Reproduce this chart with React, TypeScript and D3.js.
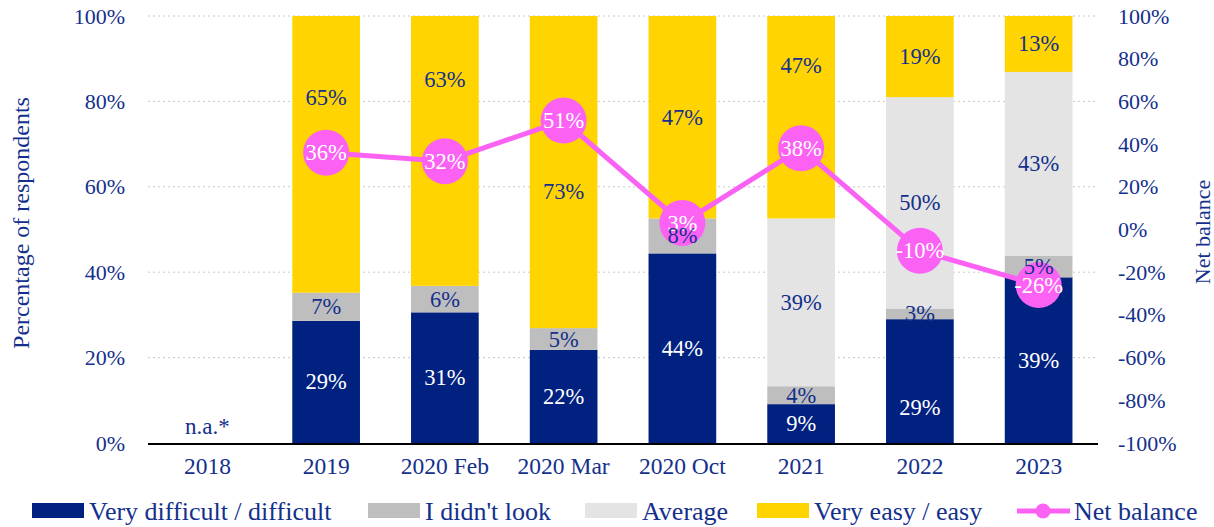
import React from 'react';
import * as d3 from 'd3';

const categories = ['2018', '2019', '2020 Feb', '2020 Mar', '2020 Oct', '2021', '2022', '2023'];
const veryDifficult = [null, 28.6, 30.6, 21.8, 44.4, 9.1, 29.0, 38.8];
const didntLook = [null, 6.6, 6.2, 5.1, 8.2, 4.2, 2.5, 5.0];
const average = [null, 0, 0, 0, 0, 39.3, 49.5, 43.1];
const veryEasy = [null, 64.8, 63.2, 73.1, 47.4, 47.4, 19.0, 13.1];
const netBalance = [null, 36, 32, 51, 3, 38, -10, -26];
const leftTicks = [0, 20, 40, 60, 80, 100];
const rightTicks = [-100, -80, -60, -40, -20, 0, 20, 40, 60, 80, 100];
// label anchor overrides (in left-axis %) where the original moved labels
const veryEasyLabelAt = [null, 80.8, 85.2, 58.8, null, 88.3, null, null];
const veryDifficultLabelAt = [null, null, null, null, null, null, 8.4, null];

const W = 1214, H = 527;
const M = { left: 148, right: 1098, top: 16, bottom: 443 };
const FONT = '"Liberation Serif", "Times New Roman", serif';
const TXT = '#14308C';
const C_DARK = '#00217F';
const C_GRAY = '#BEBEBE';
const C_LIGHT = '#E4E4E4';
const C_YELLOW = '#FFD400';
const C_PINK = '#FB62F4';

const seriesDefs = [
  { key: 'vd', name: 'Very difficult / difficult', values: veryDifficult, color: C_DARK, textColor: '#FFFFFF', labelAt: veryDifficultLabelAt },
  { key: 'dl', name: "I didn't look", values: didntLook, color: C_GRAY, textColor: TXT, labelAt: null },
  { key: 'av', name: 'Average', values: average, color: C_LIGHT, textColor: TXT, labelAt: null },
  { key: 've', name: 'Very easy / easy', values: veryEasy, color: C_YELLOW, textColor: TXT, labelAt: veryEasyLabelAt },
];

export default function App() {
  const x = d3.scaleBand<string>().domain(categories).range([M.left, M.right]).paddingInner(0.43).paddingOuter(0.215);
  const y = d3.scaleLinear().domain([0, 100]).range([M.bottom, M.top]);
  const y2 = d3.scaleLinear().domain([-100, 100]).range([M.bottom, M.top]);
  const bw = x.bandwidth();

  const stacks = categories.map((c, i) => {
    let acc = 0;
    return seriesDefs.map((s) => {
      const v = s.values[i];
      const y0 = acc;
      const y1 = acc + (v ?? 0);
      acc = y1;
      return { s, v, y0, y1 };
    });
  });

  const linePts = categories
    .map((c, i) => ({ c, v: netBalance[i] }))
    .filter((d) => d.v !== null) as { c: string; v: number }[];
  const line = d3.line<{ c: string; v: number }>()
    .x((d) => (x(d.c) as number) + bw / 2)
    .y((d) => y2(d.v));

  const legendItems = [
    { name: seriesDefs[0].name, color: C_DARK, x: 32 },
    { name: seriesDefs[1].name, color: C_GRAY, x: 368 },
    { name: seriesDefs[2].name, color: C_LIGHT, x: 585 },
    { name: seriesDefs[3].name, color: C_YELLOW, x: 757 },
  ];

  return (
    <svg width={W} height={H} style={{ position: 'absolute', left: 0, top: 0, background: '#fff' }} fontFamily={FONT}>
      {/* gridlines */}
      {leftTicks.filter((t) => t > 0).map((t) => (
        <line key={t} x1={M.left} x2={M.right} y1={y(t)} y2={y(t)} stroke="#C8C8C8" strokeWidth={1} strokeDasharray="2,3" />
      ))}
      {/* bars */}
      {stacks.map((st, i) =>
        st.map((seg) =>
          seg.v ? (
            <rect key={categories[i] + seg.s.key} x={x(categories[i])} width={bw} y={y(seg.y1)} height={y(seg.y0) - y(seg.y1)} fill={seg.s.color} />
          ) : null
        )
      )}
      {/* x axis */}
      <line x1={M.left} x2={M.right} y1={M.bottom + 1} y2={M.bottom + 1} stroke="#000" strokeWidth={2} />
      {categories.map((c) => (
        <text key={c} x={(x(c) as number) + bw / 2} y={466} textAnchor="middle" dominantBaseline="central" fontSize={23.5} fill={TXT}>{c}</text>
      ))}
      {/* left ticks */}
      {leftTicks.map((t) => (
        <text key={'l' + t} x={125} y={y(t)} textAnchor="end" dominantBaseline="central" fontSize={22} fill={TXT}>{t + '%'}</text>
      ))}
      {rightTicks.map((t) => (
        <text key={'r' + t} x={1118} y={y2(t)} textAnchor="start" dominantBaseline="central" fontSize={22} fill={TXT}>{t + '%'}</text>
      ))}
      <text transform={`translate(21,223) rotate(-90)`} textAnchor="middle" dominantBaseline="central" fontSize={24} fill={TXT}>Percentage of respondents</text>
      <text transform={`translate(1202,232) rotate(-90)`} textAnchor="middle" dominantBaseline="central" fontSize={22} fill={TXT}>Net balance</text>
      <text x={(x('2018') as number) + bw / 2} y={426} textAnchor="middle" dominantBaseline="central" fontSize={23} fill={TXT}>n.a.*</text>
      {/* net balance line */}
      <path d={line(linePts) || ''} fill="none" stroke={C_PINK} strokeWidth={5} />
      {linePts.map((d) => (
        <circle key={'c' + d.c} cx={(x(d.c) as number) + bw / 2} cy={y2(d.v)} r={23} fill={C_PINK} />
      ))}
      {linePts.map((d) => (
        <text key={'t' + d.c} x={(x(d.c) as number) + bw / 2} y={y2(d.v)} textAnchor="middle" dominantBaseline="central" fontSize={22.5} fill="#FFFFFF">{d.v + '%'}</text>
      ))}
      {/* bar labels */}
      {stacks.map((st, i) =>
        st.map((seg) => {
          if (!seg.v) return null;
          const at = seg.s.labelAt && seg.s.labelAt[i] != null ? (seg.s.labelAt[i] as number) : (seg.y0 + seg.y1) / 2;
          return (
            <text key={'bl' + categories[i] + seg.s.key} x={(x(categories[i]) as number) + bw / 2} y={y(at)} textAnchor="middle" dominantBaseline="central" fontSize={22.5} fill={seg.s.textColor}>
              {Math.round(seg.v) + '%'}
            </text>
          );
        })
      )}
      {/* legend */}
      {legendItems.map((it) => (
        <g key={it.name}>
          <rect x={it.x} y={503} width={52} height={15} fill={it.color} />
          <text x={it.x + 57} y={511} dominantBaseline="central" fontSize={26} fill={TXT}>{it.name}</text>
        </g>
      ))}
      <g>
        <line x1={1017} x2={1070} y1={511} y2={511} stroke={C_PINK} strokeWidth={5} />
        <circle cx={1043} cy={511} r={7.5} fill={C_PINK} />
        <text x={1074} y={511} dominantBaseline="central" fontSize={26} fill={TXT}>Net balance</text>
      </g>
    </svg>
  );
}
